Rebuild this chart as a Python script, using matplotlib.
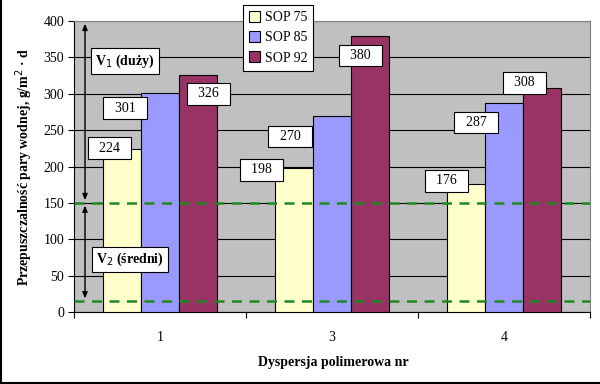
import matplotlib
matplotlib.use("Agg")
import matplotlib.pyplot as plt
from matplotlib.lines import Line2D
import numpy as np

categories = ["1", "3", "4"]
series_names = ["SOP 75", "SOP 85", "SOP 92"]
sop75 = [224, 198, 176]
sop85 = [301, 270, 287]
sop92 = [326, 380, 308]
threshold_high = 150
threshold_low = 15
y_ticks = [0, 50, 100, 150, 200, 250, 300, 350, 400]

colors = ["#FFFFCC", "#9999FF", "#993366"]
# label box offsets in pixels (dx, dy) relative to bar top
offsets = [
    [(-12, 1), (-32, -2), (-19, 3)],
    [(-35, -15), (-42, -21), (-28, -19)],
    [(10, -19), (-10, -20), (-18, 5)],
]

plt.rcParams['font.family'] = ['Liberation Serif', 'DejaVu Serif']

fig = plt.figure(figsize=(6, 3.84), dpi=100)
ax = fig.add_axes([74/600, 1-312/384, (590-74)/600, (312-21)/384])
ax.set_facecolor("#C0C0C0")

x = np.arange(len(categories))
w = 1/4.5
data = [sop75, sop85, sop92]
for i, (vals, c) in enumerate(zip(data, colors)):
    pos = x + (i-1)*w
    ax.bar(pos, vals, width=w, color=c, edgecolor="black", linewidth=0.8, zorder=3, label=series_names[i])
    for j, v in enumerate(vals):
        dx, dy = offsets[i][j]
        ax.annotate(f"  {v}  ", xy=(pos[j], v), xytext=(dx, dy), textcoords="offset pixels",
                    ha="center", va="center", fontsize=10, zorder=6,
                    bbox=dict(boxstyle="square,pad=0.3", fc="white", ec="black", lw=0.8))

ax.set_xlim(-0.5, 2.5)
ax.set_ylim(0, 400)
ax.set_yticks(y_ticks)
ax.yaxis.grid(True, color="black", linewidth=0.8, zorder=1)
ax.set_axisbelow(True)
ax.tick_params(axis="y", labelsize=10, length=4, direction="out", pad=3)

ax.set_xticks([-0.5, 0.5, 1.5, 2.5])
ax.set_xticklabels([])
ax.set_xticks(x, minor=True)
ax.set_xticklabels(categories, minor=True, fontsize=10)
ax.tick_params(axis="x", which="major", length=4, direction="out")
ax.tick_params(axis="x", which="minor", length=0, pad=14)

for s in ["top", "right"]:
    ax.spines[s].set_color("#808080")
ax.spines["left"].set_color("black")
ax.spines["bottom"].set_color("black")

# thresholds
for t in [threshold_high, threshold_low]:
    ax.axhline(t, color="#1E8A1E", linestyle=(0, (4, 3)), linewidth=1.8, zorder=5)

ax_x = -0.436
ax.annotate("", xy=(ax_x, threshold_high), xytext=(ax_x, 400),
            arrowprops=dict(arrowstyle="<|-|>,head_length=0.35,head_width=0.15", color="black", lw=1), zorder=5)
ax.annotate("", xy=(ax_x, threshold_low), xytext=(ax_x, threshold_high),
            arrowprops=dict(arrowstyle="<|-|>,head_length=0.35,head_width=0.15", color="black", lw=1), zorder=5)

ax.text(-0.203, 345, "V$_1$ (duży)", fontsize=10, fontweight="bold", ha="center", va="center", zorder=7,
        bbox=dict(boxstyle="square,pad=0.3", fc="white", ec="black", lw=0.8))
ax.text(-0.175, 72, "V$_2$ (średni)", fontsize=10, fontweight="bold", ha="center", va="center", zorder=7,
        bbox=dict(boxstyle="square,pad=0.3", fc="white", ec="black", lw=0.8))

ax.set_ylabel("Przepuszczalność pary wodnej, g/m$^2$ · d", fontsize=10, fontweight="bold", labelpad=6)
fig.text(0.555, 0.057, "Dyspersja polimerowa nr", fontsize=10, fontweight="bold", ha="center", va="center")

leg = ax.legend(loc="upper left", bbox_to_anchor=(243/600, 1-5/384), bbox_transform=fig.transFigure,
                fontsize=10, frameon=True, fancybox=False, edgecolor="black", framealpha=1,
                handlelength=0.8, handleheight=0.8, handletextpad=0.3, labelspacing=0.5,
                borderpad=0.45, borderaxespad=0)
leg.get_frame().set_linewidth(0.8)
leg.set_zorder(10)

fig.add_artist(Line2D([1/600, 1/600], [0, 1], transform=fig.transFigure, color="black", lw=1.5))
fig.add_artist(Line2D([0, 1], [1/384, 1/384], transform=fig.transFigure, color="black", lw=1.5))

fig.savefig("out.png", dpi=100)
